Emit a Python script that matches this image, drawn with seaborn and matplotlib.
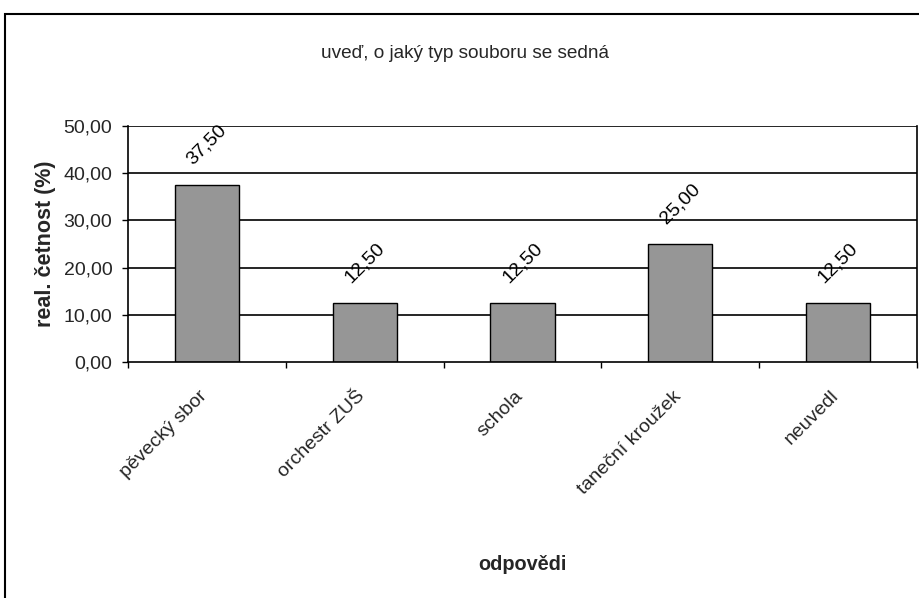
import matplotlib
matplotlib.use("Agg")
import matplotlib.pyplot as plt
import seaborn as sns
import pandas as pd
from matplotlib.patches import Rectangle
from matplotlib.ticker import FixedLocator, FuncFormatter
from matplotlib.transforms import ScaledTranslation

categories = ["pěvecký sbor", "orchestr ZUŠ", "schola", "taneční kroužek", "neuvedl"]
values = [37.50, 12.50, 12.50, 25.00, 12.50]
yticks = [0, 10, 20, 30, 40, 50]
title = "uveď, o jaký typ souboru se sedná"
xlabel = "odpovědi"
ylabel = "real. četnost (%)"

sns.set_theme(style="white")
plt.rcParams["font.family"] = ["Liberation Sans", "DejaVu Sans"]

df = pd.DataFrame({"cat": categories, "val": values})

fig = plt.figure(figsize=(9.19, 5.98), dpi=100)
ax = fig.add_axes([128/919, 1-362/598, (917-128)/919, (362-126)/598])

sns.barplot(data=df, x="cat", y="val", color="#969696", edgecolor="black",
            linewidth=1.0, width=0.406, saturation=1, ax=ax)

ax.set_ylim(0, 50)
ax.set_xlim(-0.5, len(categories) - 0.5)
ax.set_yticks(yticks)
ax.yaxis.set_major_formatter(FuncFormatter(lambda v, p: f"{v:.2f}".replace(".", ",")))
ax.set_axisbelow(True)
for t in yticks[1:]:
    ax.axhline(t, color="black", linewidth=1.2, zorder=0)

for s in ax.spines.values():
    s.set_visible(True)
    s.set_color("black")
    s.set_linewidth(1.2)
ax.spines["top"].set_visible(False)

ax.tick_params(axis="y", which="major", direction="out", length=4.3, width=1,
               color="black", labelsize=14, pad=7, left=True)
ax.set_xticks(range(len(categories)))
ax.set_xticklabels(categories, rotation=45, ha="right", va="top",
                   rotation_mode="anchor", fontsize=14)
ax.tick_params(axis="x", which="major", length=0, pad=18.5)
shift = ScaledTranslation(-8/100, 0, fig.dpi_scale_trans)
for lab in ax.get_xticklabels():
    lab.set_transform(lab.get_transform() + shift)
ax.xaxis.set_minor_locator(FixedLocator([i - 0.5 for i in range(len(categories) + 1)]))
ax.tick_params(axis="x", which="minor", direction="out", length=4.3, width=1,
               color="black", bottom=True)

for i, v in enumerate(values):
    ax.annotate(f"{v:.2f}".replace(".", ","), xy=(i, v), xytext=(0, 12.5),
                textcoords="offset points", ha="center", va="bottom",
                rotation=45, fontsize=14, color="black")

ax.set_xlabel(xlabel, fontsize=14.3, fontweight="bold", labelpad=0)
ax.xaxis.set_label_coords(0.5, (362-565)/236, transform=ax.transAxes)
ax.xaxis.label.set_va("center")
ax.set_ylabel(ylabel, fontsize=15.5, fontweight="bold")
ax.yaxis.set_label_coords((46-128)/789, 0.5)
ax.yaxis.label.set_va("center")

fig.text(465/919, 1-53/598, title, ha="center", va="center", fontsize=13.7)

fig.patches.append(Rectangle((5/919, -0.01), 1.0, 1 - 14/598 + 0.01,
                             transform=fig.transFigure, fill=False,
                             edgecolor="black", linewidth=1.5))

fig.savefig("out.png", dpi=100, facecolor="white")
